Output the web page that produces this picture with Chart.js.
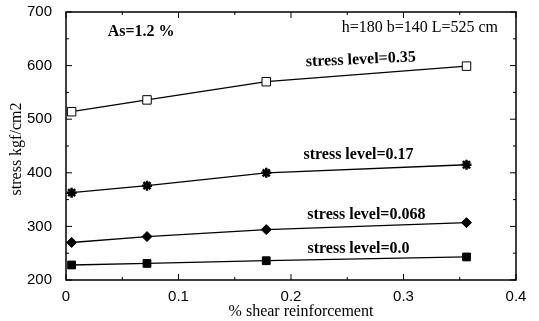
<!DOCTYPE html>
<html>
<head>
<meta charset="utf-8">
<script src="https://cdn.jsdelivr.net/npm/chart.js@4.4.0/dist/chart.umd.min.js"></script>
<style>
  html, body { margin: 0; padding: 0; background: #fff; }
  #wrap { width: 539px; height: 321px; }
</style>
</head>
<body>
<div id="wrap"><canvas id="ourChart"></canvas></div>
<script>
// shear reinforcement (%)
const shearPct = [0.005, 0.072, 0.178, 0.356];

const stress035 = [514, 536, 570, 599];
const stress017 = [363, 376, 400, 415];
const stress0068 = [270, 281, 294, 307];
const stress00 = [228, 231, 236, 243];

const xTicks = [0, 0.1, 0.2, 0.3, 0.4];
const yTicks = [200, 300, 400, 500, 600, 700];

const xTitle = '% shear reinforcement';
const yTitle = 'stress kgf/cm2';

// text notes: [text, x, y, bold, align, angle]
const notes = [
    ['stress level=0.35', 0.262, 611, true, 'center', -0.045],
    ['stress level=0.17', 0.26, 434, true, 'center', 0],
    ['stress level=0.068', 0.267, 321, true, 'center', 0],
    ['stress level=0.0', 0.26, 259, true, 'center', 0],
    ['As=1.2 %', 0.037, 663, true, 'left', 0],
    ['h=180 b=140 L=525 cm', 0.245, 670, false, 'left', 0]
];

function pts(ys) {
    return shearPct.map((x, i) => ({ x: x, y: ys[i] }));
}

// frame, inward ticks, axis titles and text notes
const decor = {
    id: 'decor',
    afterDatasetsDraw(chart) {
        const ctx = chart.ctx;
        const a = chart.chartArea;
        const xs = chart.scales.x;
        const ys = chart.scales.y;
        ctx.save();
        ctx.strokeStyle = '#000';
        ctx.lineWidth = 1.5;
        ctx.strokeRect(a.left, a.top, a.right - a.left, a.bottom - a.top);
        ctx.lineWidth = 1;
        ctx.beginPath();
        for (let v = 0; v <= 0.4001; v += 0.05) {
            const px = xs.getPixelForValue(v);
            const len = (Math.round(v * 100) % 10 === 0) ? 6 : 3;
            ctx.moveTo(px, a.bottom); ctx.lineTo(px, a.bottom - len);
            ctx.moveTo(px, a.top); ctx.lineTo(px, a.top + len);
        }
        for (let v = 200; v <= 700; v += 50) {
            const py = ys.getPixelForValue(v);
            const len = (v % 100 === 0) ? 6 : 3;
            ctx.moveTo(a.left, py); ctx.lineTo(a.left + len, py);
            ctx.moveTo(a.right, py); ctx.lineTo(a.right - len, py);
        }
        ctx.stroke();

        ctx.fillStyle = '#000';
        ctx.textBaseline = 'middle';
        ctx.textAlign = 'center';
        ctx.font = '16px "Liberation Serif"';
        ctx.fillText(xTitle, 301, 312);
        ctx.save();
        ctx.translate(17, (a.top + a.bottom) / 2 + 3);
        ctx.rotate(-Math.PI / 2);
        ctx.fillText(yTitle, 0, 0);
        ctx.restore();

        notes.forEach(n => {
            ctx.save();
            ctx.font = (n[3] ? 'bold ' : '') + '16px "Liberation Serif"';
            ctx.textAlign = n[4];
            ctx.translate(xs.getPixelForValue(n[1]), ys.getPixelForValue(n[2]));
            ctx.rotate(n[5]);
            ctx.fillText(n[0], 0, 0);
            ctx.restore();
        });
        ctx.restore();
    }
};

const ourCanvas = document.getElementById('ourChart');

const chartElement = new Chart(ourCanvas, {
    type: 'scatter',
    data: {
        datasets: [
            {
                label: 'stress level=0.35',
                data: pts(stress035),
                pointStyle: 'rect',
                pointRadius: 6,
                backgroundColor: '#fff',
                borderColor: '#000'
            },
            {
                label: 'stress level=0.17',
                data: pts(stress017),
                pointStyle: 'star',
                pointRadius: 5,
                pointBorderWidth: 2.5,
                backgroundColor: '#000',
                borderColor: '#000'
            },
            {
                label: 'stress level=0.068',
                data: pts(stress0068),
                pointStyle: 'rectRot',
                pointRadius: 5,
                backgroundColor: '#000',
                borderColor: '#000'
            },
            {
                label: 'stress level=0.0',
                data: pts(stress00),
                pointStyle: 'rect',
                pointRadius: 5.5,
                backgroundColor: '#000',
                borderColor: '#000'
            }
        ]
    },
    options: {
        responsive: true,
        maintainAspectRatio: false,
        animation: { duration: 0 },
        showLine: true,
        elements: {
            line: { borderWidth: 1.3, borderColor: '#000', tension: 0 },
            point: { borderWidth: 1 }
        },
        layout: { padding: { top: 12, right: 23, left: 0, bottom: 0 } },
        plugins: {
            legend: { display: false },
            tooltip: { enabled: false }
        },
        scales: {
            x: {
                type: 'linear',
                min: 0,
                max: 0.4,
                afterBuildTicks: s => { s.ticks = xTicks.map(v => ({ value: v })); },
                afterFit: s => {
                    s.height = 41;
                    s.paddingLeft = 0;
                    s.paddingRight = 0;
                },
                grid: { display: false },
                border: { display: false },
                ticks: {
                    color: '#000',
                    padding: 0,
                    font: { family: '"Liberation Sans"', size: 15 },
                    callback: v => String(v)
                }
            },
            y: {
                min: 200,
                max: 700,
                afterBuildTicks: s => { s.ticks = yTicks.map(v => ({ value: v })); },
                afterFit: s => {
                    s.width = 66;
                    s.paddingTop = 0;
                    s.paddingBottom = 0;
                },
                grid: { display: false },
                border: { display: false },
                ticks: {
                    color: '#000',
                    padding: 6,
                    font: { family: '"Liberation Sans"', size: 15 }
                }
            }
        }
    },
    plugins: [decor]
});
</script>
</body>
</html>
